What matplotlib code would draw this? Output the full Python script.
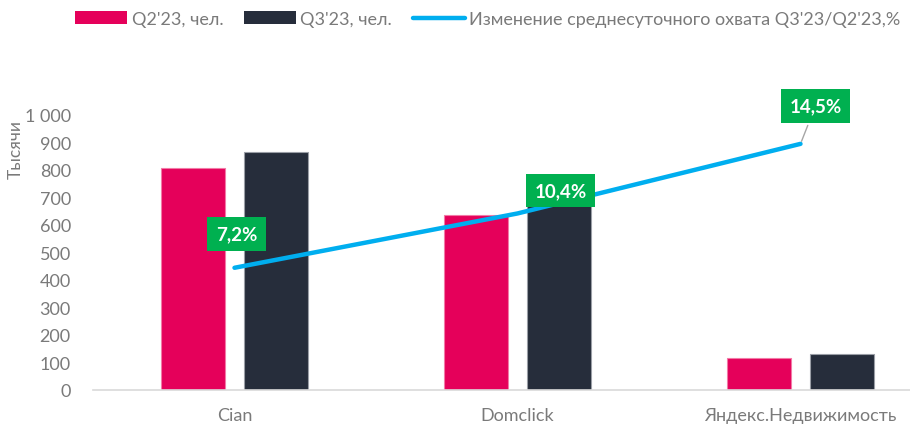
import matplotlib
matplotlib.use("Agg")
import matplotlib.pyplot as plt
import numpy as np
from matplotlib.ticker import FuncFormatter
from matplotlib.patches import Patch
from matplotlib.lines import Line2D

categories = ["Cian", "Domclick", "Яндекс.Недвижимость"]
q2_values = [806, 637, 115]
q3_values = [864, 709, 132]
change_pct = [7.2, 10.4, 14.5]
change_labels = ["7,2%", "10,4%", "14,5%"]
series_names = ["Q2'23, чел.", "Q3'23, чел.", "Изменение среднесуточного охвата Q3'23/Q2'23,%"]

PINK = "#E5005A"
DARK = "#262D3B"
BLUE = "#00AEEF"
GREEN = "#00B050"
GRAY = "#7a7a7a"

plt.rcParams['font.family'] = ['Lato', 'DejaVu Sans']

fig = plt.figure(figsize=(9.10, 4.27), dpi=100)
ax = fig.add_axes([93/910, 36/427, 849/910, 275/427])

x = np.arange(len(categories))
off = 0.148
w = 0.226
ax.bar(x - off, q2_values, width=w, color=PINK, edgecolor="#F27AA6", linewidth=0.8, zorder=2)
ax.bar(x + off, q3_values, width=w, color=DARK, edgecolor="#9a9ea6", linewidth=0.8, zorder=2)

ax.set_xlim(-0.5, 2.5)
ax.set_ylim(0, 1000)
ax.set_yticks(np.arange(0, 1001, 100))
ax.yaxis.set_major_formatter(FuncFormatter(lambda v, p: f"{int(v):,}".replace(",", " ")))
ax.set_xticks(x)
ax.set_xticklabels(categories)
ax.tick_params(axis='both', length=0, labelsize=13, labelcolor=GRAY)
ax.tick_params(axis='y', pad=16)
ax.tick_params(axis='x', pad=12)
for s in ["top", "right", "left"]:
    ax.spines[s].set_visible(False)
ax.spines["bottom"].set_color("#d9d9d9")
ax.spines["bottom"].set_linewidth(1.2)
ax.patch.set_alpha(0)

fig.text(16/910, 1 - 150/427, "Тысячи", rotation=90, ha='center', va='center',
         fontsize=12.5, color=GRAY)

ax2 = ax.twinx()
ax2.set_ylim(0, 16.2)
ax2.set_axis_off()
ax2.plot(x, change_pct, color=BLUE, linewidth=3.2, solid_capstyle='round', zorder=3)

offsets = [(2, 34), (43, 23), (15, 38)]
for i, (xv, yv) in enumerate(zip(x, change_pct)):
    arrow = dict(arrowstyle='-', color='#a6a6a6', lw=1) if i == 2 else None
    ax2.annotate(change_labels[i], xy=(xv, yv), xytext=offsets[i], textcoords='offset pixels',
                 ha='center', va='center', fontsize=13.5, fontweight='bold', color='white',
                 bbox=dict(boxstyle='square,pad=0.45', fc=GREEN, ec='none'),
                 arrowprops=arrow, zorder=5)

handles = [Patch(facecolor=PINK, edgecolor='none'),
           Patch(facecolor=DARK, edgecolor='none'),
           Line2D([0], [0], color=BLUE, lw=3.2, solid_capstyle='round')]
leg = fig.legend(handles, series_names, loc='center left', bbox_to_anchor=(75/910, 1 - 20/427),
                 ncol=3, frameon=False, fontsize=13.0, handlelength=2.86, handleheight=0.7,
                 handletextpad=0.27, columnspacing=1.15, borderaxespad=0, borderpad=0)
for t in leg.get_texts():
    t.set_color(GRAY)

fig.savefig("out.png", dpi=100)
